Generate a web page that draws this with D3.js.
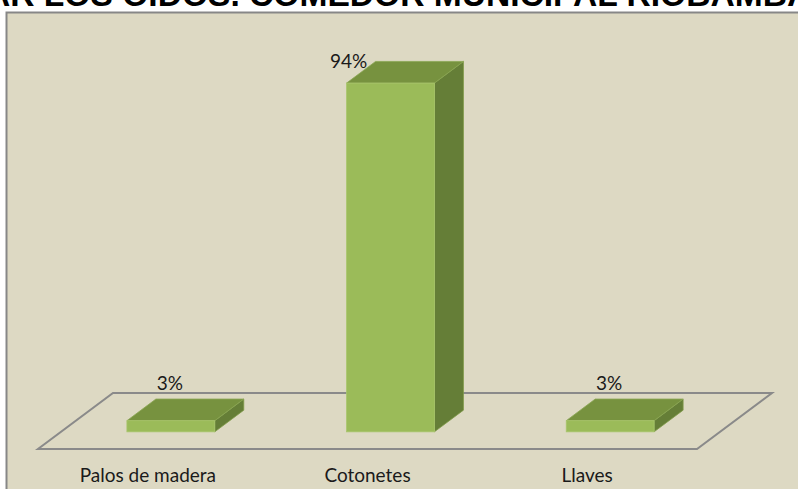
<!DOCTYPE html>
<html><head><meta charset="utf-8">
<script src="https://cdn.jsdelivr.net/npm/d3@7/dist/d3.min.js"></script>
<style>
html,body{margin:0;padding:0;background:#fff;overflow:hidden;}
svg{display:block;}
</style></head>
<body>
<svg id="c" width="798" height="489"></svg>
<script>
const titleText = "AR LOS OIDOS. COMEDOR MUNICIPAL RIOBAMBA";
const categories = ["Palos de madera", "Cotonetes", "Llaves"];
const values = [3, 94, 3];
const valueLabels = ["3%", "94%", "3%"];

const W = 798, H = 489;
const svg = d3.select("#c");

// page / frame
svg.append("rect").attr("x", 0).attr("y", 0).attr("width", W).attr("height", H).attr("fill", "#ffffff");
svg.append("rect").attr("x", 6.5).attr("y", 12.5).attr("width", 900).attr("height", 600)
  .attr("fill", "#DDD9C3").attr("stroke", "#878787").attr("stroke-width", 2);

// title (cut by the top of the picture, as in the reference)
svg.append("text").attr("x", -14).attr("y", 6)
  .attr("font-family", "Liberation Sans, Arial, sans-serif").attr("font-weight", "bold")
  .attr("font-size", 33.6).attr("fill", "#000").text(titleText);

// 3D geometry
const floorY = 449, floorX0 = 38, floorX1 = 697;
const depth = {dx: 75, dy: -56};
const x = d3.scaleBand().domain(categories).range([floorX0, floorX1]).padding(0);
const y = d3.scaleLinear().domain([0, 100]).range([0, 371]);
const bw = x.bandwidth() * 0.4;
const dFront = 23 / 75, dBack = 52 / 75;

// floor
const floorPts = [[floorX0, floorY], [floorX1, floorY], [floorX1 + depth.dx, floorY + depth.dy], [floorX0 + depth.dx, floorY + depth.dy]];
svg.append("path").attr("d", d3.line()(floorPts) + "Z")
  .attr("fill", "none").attr("stroke", "#8A8A8A").attr("stroke-width", 2).attr("stroke-linejoin", "miter");

const data = categories.map((c, i) => ({c, v: values[i], lab: valueLabels[i]}));
const g = svg.append("g");
data.forEach(d => {
  const x0 = x(d.c) + (x.bandwidth() - bw) / 2 + depth.dx * dFront;
  const yb = floorY + depth.dy * dFront;
  const h = y(d.v);
  const ddx = depth.dx * (dBack - dFront), ddy = depth.dy * (dBack - dFront);
  const yt = yb - h;
  // side
  g.append("path").attr("d", d3.line()([[x0 + bw, yb], [x0 + bw + ddx, yb + ddy], [x0 + bw + ddx, yt + ddy], [x0 + bw, yt]]) + "Z")
    .attr("fill", "#657E37").attr("stroke", "#7F9A48").attr("stroke-width", 0.8);
  // top
  g.append("path").attr("d", d3.line()([[x0, yt], [x0 + bw, yt], [x0 + bw + ddx, yt + ddy], [x0 + ddx, yt + ddy]]) + "Z")
    .attr("fill", "#77923F").attr("stroke", "#8AA653").attr("stroke-width", 0.8);
  // front
  g.append("rect").attr("x", x0).attr("y", yt).attr("width", bw).attr("height", h)
    .attr("fill", "#9BBB59").attr("stroke", "#A9C66C").attr("stroke-width", 0.8);
  // value label
  const big = d.v > 50;
  g.append("text")
    .attr("x", big ? x0 + 2 : x0 + bw / 2 - 1)
    .attr("y", big ? yt + ddy + 7 : yt + ddy - 9)
    .attr("text-anchor", "middle")
    .attr("font-family", "Lato, sans-serif").attr("font-size", 19).attr("fill", "#1a1a1a")
    .text(d.lab);
});

// category labels
svg.append("g").selectAll("text").data(categories).join("text")
  .attr("x", d => x(d) + x.bandwidth() / 2)
  .attr("y", 482)
  .attr("text-anchor", "middle")
  .attr("font-family", "Lato, sans-serif").attr("font-size", 19).attr("fill", "#1a1a1a")
  .text(d => d);
</script>
</body></html>
